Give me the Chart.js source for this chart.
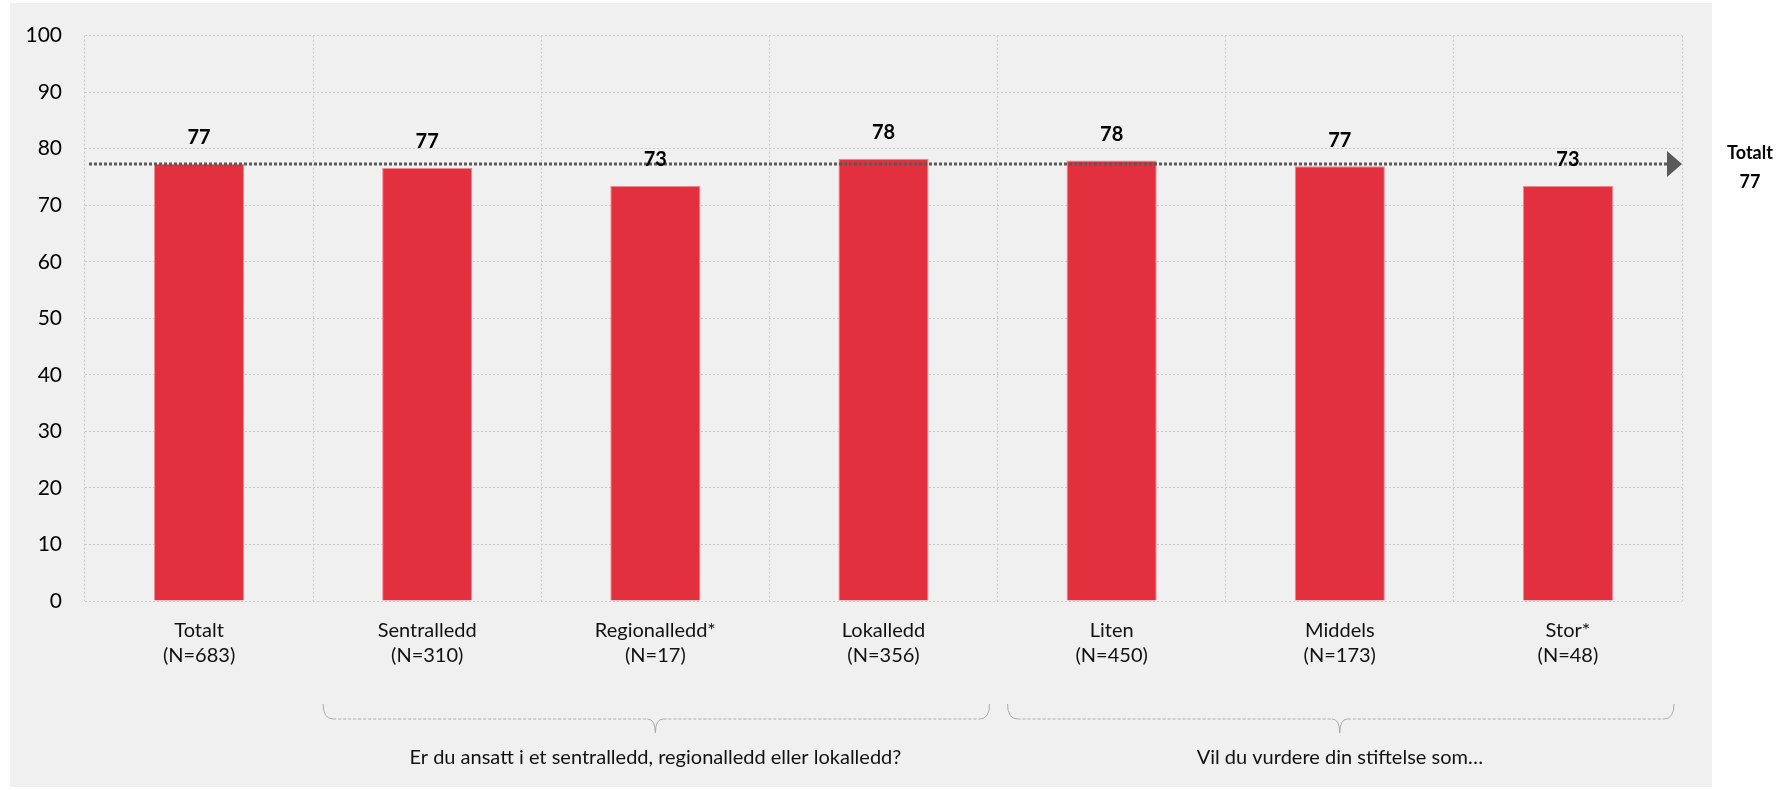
<!DOCTYPE html>
<html>
<head>
<meta charset="utf-8">
<script src="https://cdn.jsdelivr.net/npm/chart.js@4/dist/chart.umd.min.js"></script>
<style>
  html, body { margin: 0; padding: 0; background: #ffffff; }
  canvas { display: block; }
</style>
</head>
<body>
<canvas id="c" width="1790" height="790"></canvas>
<script>
// Categories and respondent counts
const categories = ['Totalt', 'Sentralledd', 'Regionalledd*', 'Lokalledd', 'Liten', 'Middels', 'Stor*'];
const sampleSizes = [683, 310, 17, 356, 450, 173, 48];
// Mean score per group
const scores = [77.3, 76.6, 73.4, 78.2, 77.9, 76.9, 73.4];
// Overall reference value
const totalLabel = 'Totalt';
const totalValue = 77.3;
// Y axis ticks
const yTicks = [0, 10, 20, 30, 40, 50, 60, 70, 80, 90, 100];
// Question groups under the axis: [first index, last index, text]
const groupFirst = [1, 4];
const groupLast = [3, 6];
const groupTexts = ['Er du ansatt i et sentralledd, regionalledd eller lokalledd?', 'Vil du vurdere din stiftelse som…'];

const FONT = 'Lato, "Open Sans", sans-serif';
const labels = categories.map((c, i) => [c, '(N=' + sampleSizes[i] + ')']);

const panelPlugin = {
  id: 'panel',
  beforeDraw(chart) {
    const ctx = chart.ctx;
    ctx.save();
    ctx.fillStyle = '#f0f0f0';
    ctx.fillRect(10, 3, 1702, 784);
    ctx.restore();
  }
};

const overlayPlugin = {
  id: 'overlay',
  afterDatasetsDraw(chart) {
    const ctx = chart.ctx;
    const area = chart.chartArea;
    const xs = chart.scales.x;
    const ys = chart.scales.y;

    // Dotted reference line with arrow head
    const yRef = ys.getPixelForValue(totalValue);
    const arrowW = 15, arrowH = 26;
    ctx.save();
    ctx.strokeStyle = '#595959';
    ctx.lineWidth = 3;
    ctx.setLineDash([3, 2]);
    ctx.beginPath();
    ctx.moveTo(area.left + 4, yRef);
    ctx.lineTo(area.right - arrowW, yRef);
    ctx.stroke();
    ctx.setLineDash([]);
    ctx.fillStyle = '#595959';
    ctx.beginPath();
    ctx.moveTo(area.right - arrowW, yRef - arrowH / 2);
    ctx.lineTo(area.right, yRef);
    ctx.lineTo(area.right - arrowW, yRef + arrowH / 2);
    ctx.closePath();
    ctx.fill();

    // Reference label to the right
    ctx.fillStyle = '#000000';
    ctx.font = 'bold 18px ' + FONT;
    ctx.textAlign = 'center';
    ctx.textBaseline = 'middle';
    ctx.fillText(totalLabel, 1750, yRef - 11);
    ctx.fillText(String(Math.round(totalValue)), 1750, yRef + 18);

    // Value labels above bars
    const meta = chart.getDatasetMeta(0);
    ctx.font = 'bold 20px ' + FONT;
    meta.data.forEach((bar, i) => {
      ctx.fillText(String(Math.round(scores[i])), bar.x, bar.y - 26);
    });

    // Group braces and question texts
    const half = (xs.getPixelForValue(1) - xs.getPixelForValue(0)) / 2;
    const yTop = 704, yLine = 719, yTip = 733;
    groupFirst.forEach((a, g) => {
      const b = groupLast[g];
      const L = xs.getPixelForValue(a) - half + 10;
      const R = xs.getPixelForValue(b) + half - 8;
      const M = (xs.getPixelForValue(a) + xs.getPixelForValue(b)) / 2;
      ctx.strokeStyle = '#ababab';
      ctx.lineWidth = 1;
      ctx.beginPath();
      ctx.moveTo(L, yTop);
      ctx.quadraticCurveTo(L, yLine, L + 10, yLine);
      ctx.stroke();
      ctx.beginPath();
      ctx.moveTo(R, yTop);
      ctx.quadraticCurveTo(R, yLine, R - 10, yLine);
      ctx.stroke();
      ctx.beginPath();
      ctx.moveTo(M - 8, yLine);
      ctx.quadraticCurveTo(M, yLine, M, yTip);
      ctx.quadraticCurveTo(M, yLine, M + 8, yLine);
      ctx.stroke();
      ctx.setLineDash([3, 2]);
      ctx.beginPath();
      ctx.moveTo(L + 10, yLine);
      ctx.lineTo(M - 8, yLine);
      ctx.moveTo(M + 8, yLine);
      ctx.lineTo(R - 10, yLine);
      ctx.stroke();
      ctx.setLineDash([]);
      ctx.fillStyle = '#111111';
      ctx.font = '20px ' + FONT;
      ctx.fillText(groupTexts[g], M, 758);
    });
    ctx.restore();
  }
};

new Chart(document.getElementById('c'), {
  type: 'bar',
  data: {
    labels: labels,
    datasets: [{
      data: scores,
      backgroundColor: '#e3303e',
      borderColor: '#ec8a92',
      borderWidth: 1,
      barPercentage: 0.395,
      categoryPercentage: 1.0
    }]
  },
  options: {
    responsive: false,
    animation: false,
    devicePixelRatio: 1,
    layout: { padding: { top: 33, right: 108, left: 0, bottom: 0 } },
    plugins: {
      legend: { display: false },
      tooltip: { enabled: false }
    },
    scales: {
      x: {
        offset: true,
        grid: { display: true, offset: true, color: '#c8c8c8', lineWidth: 1, drawTicks: false },
        border: { display: false, dash: [2, 2] },
        ticks: {
          color: '#111111',
          padding: 17,
          font: { family: FONT, size: 20, lineHeight: 1.25 },
          maxRotation: 0,
          autoSkip: false
        },
        afterFit(scale) { scale.height = 189; }
      },
      y: {
        min: 0,
        max: 100,
        afterBuildTicks(scale) { scale.ticks = yTicks.map(v => ({ value: v })); },
        grid: { color: '#c8c8c8', lineWidth: 1, drawTicks: false },
        border: { display: false, dash: [2, 2] },
        ticks: {
          color: '#000000',
          padding: 23,
          font: { family: FONT, size: 21 }
        },
        afterFit(scale) { scale.width = 85; }
      }
    }
  },
  plugins: [panelPlugin, overlayPlugin]
});
</script>
</body>
</html>
